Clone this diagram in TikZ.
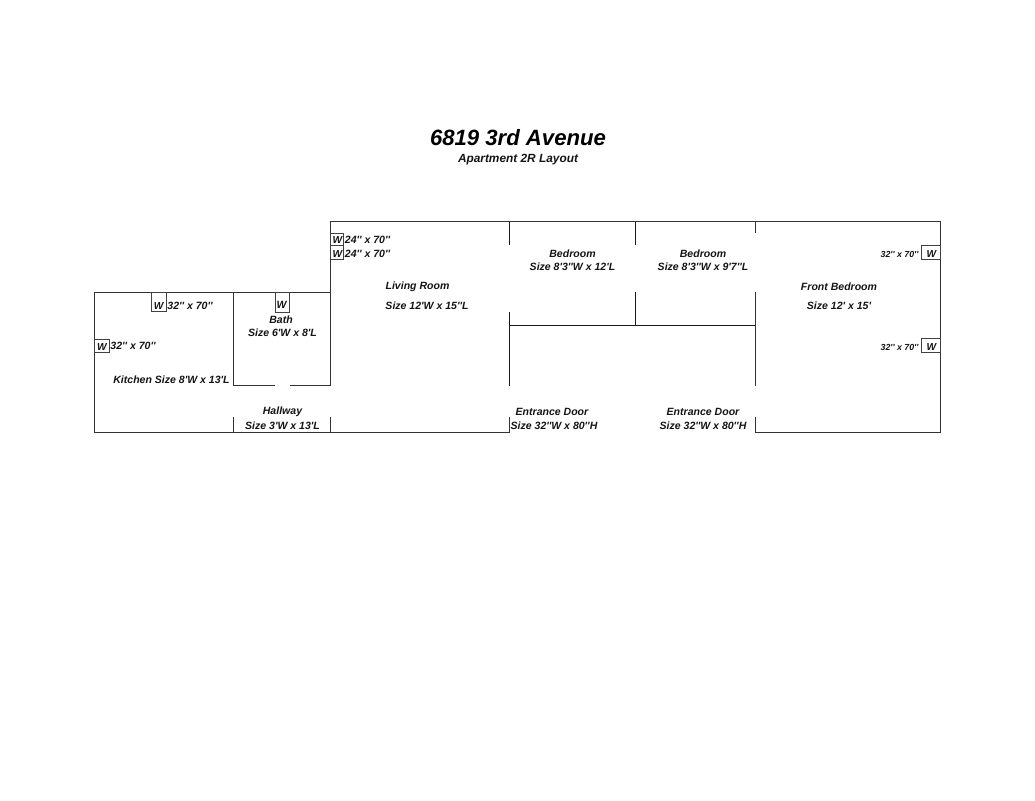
\documentclass[tikz,border=0pt]{standalone}
\usepackage{fontspec}
\setmainfont[Ligatures=TeXOff]{Liberation Sans}
\tikzset{
  x=0.75pt,y=-0.75pt,
  wall/.style={draw=black!80,line width=0.72pt,line cap=rect},
  thinwall/.style={draw=black!90,line width=0.65pt},
  win/.style={draw=black!75,line width=0.65pt},
  lab/.style={inner sep=0pt,font=\bfseries\itshape\fontsize{7.9}{9}\selectfont,text=black!92},
  small/.style={inner sep=0pt,font=\bfseries\itshape\fontsize{6.6}{8}\selectfont,text=black!92},
  wlab/.style={inner sep=0pt,font=\bfseries\itshape\fontsize{7.6}{9}\selectfont,text=black!92},
}
\begin{document}
\begin{tikzpicture}
\useasboundingbox (0,0) rectangle (1035,800);
% outer walls
\draw[wall] (509.5,432) -- (94.5,432) -- (94.5,292.5) -- (330.5,292.5);
\draw[wall] (330.5,385.5) -- (330.5,221.5) -- (940.5,221.5) -- (940.5,432) -- (755.5,432) -- (755.5,417);
% bath
\draw[wall] (233.5,292.5) -- (233.5,385.5) -- (275,385.5);
\draw[wall] (290,385.5) -- (330.5,385.5);
% hallway stubs
\draw[wall] (233.5,417) -- (233.5,432);
\draw[wall] (330.5,417) -- (330.5,432);
\draw[wall] (509.5,417) -- (509.5,432);
% partitions
\draw[thinwall] (509.5,221.5) -- (509.5,245);
\draw[thinwall] (509.5,311.7) -- (509.5,385.5);
\draw[thinwall] (635.5,221.5) -- (635.5,245);
\draw[thinwall] (635.5,292) -- (635.5,325.5);
\draw[thinwall] (509.5,325.5) -- (755.5,325.5);
\draw[wall] (755.5,221.5) -- (755.5,232.5);
\draw[wall] (755.5,292) -- (755.5,385.5);
% windows
\draw[win] (151.5,292.5) rectangle (166.5,311.5);
\draw[win] (94.5,339.5) rectangle (109.5,352.5);
\draw[win] (275.5,292.5) rectangle (289.5,312.5);
\draw[win] (330.5,233.5) rectangle (343.5,245.5);
\draw[win] (330.5,245.5) rectangle (343.5,259.5);
\draw[win] (921.5,245.5) rectangle (940.5,259.5);
\draw[win] (921.5,338.5) rectangle (940.5,352.5);
% window letters
\node[wlab] (wa) at (158.7,306.5) {W};
\node[wlab] (wb) at (101.8,347.5) {W};
\node[lab] (wc) at (281.7,305) {W};
\node[wlab] (wd) at (337.3,240.5) {W};
\node[wlab] (we) at (337.3,254.5) {W};
\node[wlab] (wf) at (931.5,254.5) {W};
\node[wlab] (wg) at (931.5,347.5) {W};
% title
\node[inner sep=0pt,font=\bfseries\itshape\fontsize{16.6}{20}\selectfont] (title) at (518,137.5) {6819 3rd Avenue};
\node[inner sep=0pt,font=\bfseries\itshape\fontsize{8.9}{10}\selectfont,text=black!92] (sub) at (518,159.5) {Apartment 2R Layout};
% window sizes
\node[lab] (s1) at (190,305.5) {32'' x 70''};
\node[lab] (s2) at (133,346.3) {32'' x 70''};
\node[lab] (s3) at (367.5,240) {24'' x 70''};
\node[lab] (s4) at (367.5,253.8) {24'' x 70''};
\node[small] (s5) at (899.5,254.5) {32'' x 70''};
\node[small] (s6) at (899.5,347.5) {32'' x 70''};
% rooms
\node[lab] (bath) at (281,319.5) {Bath};
\node[lab] (baths) at (282.5,332.8) {Size 6'W x 8'L};
\node[lab] (kit) at (171.5,379.5) {Kitchen Size 8'W x 13'L};
\node[lab] (lr) at (417.5,286.5) {Living Room};
\node[lab] (lrs) at (427,305.5) {Size 12'W x 15''L};
\node[lab] (hall) at (282.5,411.5) {Hallway};
\node[lab] (halls) at (282.5,426) {Size 3'W x 13'L};
\node[lab] (b1) at (572.5,253.5) {Bedroom};
\node[lab] (b1s) at (572.5,266.5) {Size 8'3''W x 12'L};
\node[lab] (b2) at (703,253.5) {Bedroom};
\node[lab] (b2s) at (703,266.5) {Size 8'3''W x 9'7''L};
\node[lab] (fb) at (839,286.5) {Front Bedroom};
\node[lab] (fbs) at (839,305.5) {Size 12' x 15'};
\node[lab] (e1) at (552,411.5) {Entrance Door};
\node[lab] (e1s) at (554,426) {Size 32''W x 80''H};
\node[lab] (e2) at (703,411.5) {Entrance Door};
\node[lab] (e2s) at (703,426) {Size 32''W x 80''H};
\end{tikzpicture}
\end{document}
